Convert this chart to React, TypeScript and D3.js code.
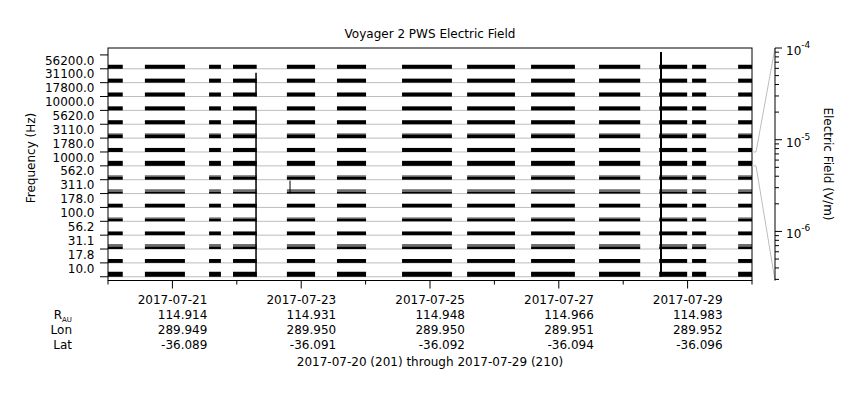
import * as d3 from 'd3';

const W = 860;
const H = 400;
const FRAME = { left: 108, right: 752, top: 48, bottom: 280.5 };
const FONT = 'DejaVu Sans, sans-serif';

// channel centre frequencies, lowest first
const CHANNELS = ['10.0', '17.8', '31.1', '56.2', '100.0', '178.0', '311.0', '562.0',
  '1000.0', '1780.0', '3110.0', '5620.0', '10000.0', '17800.0', '31100.0', '56200.0'];

// typical upper envelope of the noise per channel (V/m): dense black part, grey fringe
const BLACK_TOP = [2.4e-6, 1.5e-6, 8.5e-7, 1.4e-6, 9e-7, 1.4e-6, 6e-7, 1.05e-6,
  2.4e-6, 1.6e-6, 1.4e-6, 1.6e-6, 1.6e-6, 1.6e-6, 1.6e-6, 1.6e-6];
const GREY_TOP = [0, 0, 2.4e-6, 0, 1.5e-6, 0, 1.8e-6, 1.9e-6,
  0, 0, 2.2e-6, 0, 0, 0, 0, 0];

// intervals with data coverage
const SEGMENTS: [string, string][] = [
  ['2017-07-20T00:00', '2017-07-20T05:30'],
  ['2017-07-20T13:45', '2017-07-21T04:40'],
  ['2017-07-21T13:40', '2017-07-21T18:05'],
  ['2017-07-21T22:35', '2017-07-22T07:25'],
  ['2017-07-22T18:40', '2017-07-23T05:10'],
  ['2017-07-23T13:20', '2017-07-24T00:10'],
  ['2017-07-24T13:35', '2017-07-25T08:10'],
  ['2017-07-25T13:50', '2017-07-26T07:40'],
  ['2017-07-26T13:40', '2017-07-27T06:00'],
  ['2017-07-27T15:00', '2017-07-28T06:20'],
  ['2017-07-28T13:25', '2017-07-28T23:50'],
  ['2017-07-29T01:40', '2017-07-29T06:55'],
  ['2017-07-29T18:50', '2017-07-30T00:00'],
];

// impulsive events: time, channel range, peak field
const SPIKES: { t: string; lo: number; hi: number; peak: number; w: number }[] = [
  { t: '2017-07-22T07:10', lo: 0, hi: 11, peak: 1.2e-4, w: 1.5 },
  { t: '2017-07-22T07:10', lo: 13, hi: 13, peak: 1.2e-4, w: 1.5 },
  { t: '2017-07-22T07:10', lo: 14, hi: 14, peak: 1.8e-5, w: 1.5 },
  { t: '2017-07-22T19:50', lo: 6, hi: 6, peak: 7e-5, w: 1 },
  { t: '2017-07-28T14:05', lo: 0, hi: 14, peak: 1.5e-4, w: 2 },
  { t: '2017-07-28T14:05', lo: 15, hi: 15, peak: 3.5e-4, w: 2 },
];

const TICK_DATES = ['2017-07-21', '2017-07-23', '2017-07-25', '2017-07-27', '2017-07-29'];
const R_AU = ['114.914', '114.931', '114.948', '114.966', '114.983'];
const LON = ['289.949', '289.950', '289.950', '289.951', '289.952'];
const LAT = ['-36.089', '-36.091', '-36.092', '-36.094', '-36.096'];

const FIELD_MIN = Math.pow(10, -6.535);
const FIELD_MAX = 1e-4;
const HILITE = 8; // channel expanded on the right-hand scale

const parse = (s: string) => new Date(s + (s.length > 10 ? ':00Z' : 'T00:00:00Z'));

export default function App() {
  const x = d3.scaleUtc()
    .domain([parse('2017-07-20'), parse('2017-07-30')])
    .range([FRAME.left, FRAME.right]);
  // channel index -> vertical position of its baseline
  const y = d3.scaleLinear().domain([-0.27, 16.5]).range([FRAME.bottom, FRAME.top]);
  const band = y(0) - y(1);
  const fieldFrac = d3.scaleLog().domain([FIELD_MIN, FIELD_MAX]).range([0, 1]).clamp(false);
  const chanY = (i: number, v: number) => y(i) - fieldFrac(v) * band;
  const z = d3.scaleLog().domain([FIELD_MIN, FIELD_MAX]).range([FRAME.bottom, FRAME.top]);
  const zx = 775;

  const days = d3.utcDay.range(parse('2017-07-20'), d3.utcDay.offset(parse('2017-07-30'), 1));
  const zTicks: { v: number; major: boolean; exp?: number }[] = [];
  for (let e = -7; e <= -5; e++) {
    for (let m = 1; m < 10; m++) {
      const v = m * Math.pow(10, e);
      if (v >= FIELD_MIN * 0.999 && v <= FIELD_MAX * 1.001) zTicks.push({ v, major: m === 1, exp: e });
    }
  }
  zTicks.push({ v: 1e-4, major: true, exp: -4 });

  const rows = [
    { label: 'R', sub: 'AU', vals: R_AU, y: 319 },
    { label: 'Lon', vals: LON, y: 334 },
    { label: 'Lat', vals: LAT, y: 348.5 },
  ];

  return (
    <svg width={W} height={H} style={{ position: 'absolute', left: 0, top: 0, background: '#fff' }}
      fontFamily={FONT} fontSize={12}>
      <rect width={W} height={H} fill="#fff" />
      <text x={430} y={38} textAnchor="middle">Voyager 2 PWS Electric Field</text>

      {/* baselines */}
      {CHANNELS.map((_, i) => (
        <line key={'g' + i} x1={FRAME.left} x2={FRAME.right} y1={y(i)} y2={y(i)} stroke="#bdbdbd" />
      ))}

      {/* channel data */}
      {CHANNELS.map((_, i) => SEGMENTS.map(([a, b], k) => {
        const x0 = x(parse(a)), x1 = x(parse(b));
        const top = chanY(i, BLACK_TOP[i]);
        return (
          <g key={`s${i}-${k}`}>
            {GREY_TOP[i] > 0 && (
              <rect x={x0} width={x1 - x0} y={chanY(i, GREY_TOP[i])}
                height={top - chanY(i, GREY_TOP[i])} fill="#6e6e6e" />
            )}
            <rect x={x0} width={x1 - x0} y={top} height={y(i) - top} fill="#000" />
          </g>
        );
      }))}

      {SPIKES.map((s, k) => {
        const sx = x(parse(s.t));
        return d3.range(s.lo, s.hi + 1).map(i => (
          <line key={`p${k}-${i}`} x1={sx} x2={sx} y1={y(i)}
            y2={Math.max(FRAME.top + 4, chanY(i, s.peak))} stroke="#000" strokeWidth={s.w} />
        ));
      })}

      {/* frame */}
      <rect x={FRAME.left} y={FRAME.top} width={FRAME.right - FRAME.left}
        height={FRAME.bottom - FRAME.top} fill="none" stroke="#000" />

      {/* left axis */}
      {d3.range(0, 17).map(i => (
        <line key={'lt' + i} x1={FRAME.left - 8} x2={FRAME.left} y1={y(i)} y2={y(i)} stroke="#000" />
      ))}
      {CHANNELS.map((c, i) => (
        <text key={'ll' + i} x={94.5} y={(y(i) + y(i + 1)) / 2 - 1.5} dy="0.35em" textAnchor="end">{c}</text>
      ))}
      <text transform={`translate(35,158) rotate(-90)`} textAnchor="middle">Frequency (Hz)</text>

      {/* bottom axis */}
      {days.map((d, k) => {
        const long = d.getUTCDate() % 2 === 1;
        return <line key={'bt' + k} x1={x(d)} x2={x(d)} y1={FRAME.bottom} y2={FRAME.bottom + (long ? 8 : 4)} stroke="#000" />;
      })}
      {TICK_DATES.map((d, k) => {
        const tx = x(parse(d)) + 35;
        return (
          <g key={'tb' + k} textAnchor="end">
            <text x={tx} y={304}>{d}</text>
            {rows.map(r => <text key={r.label} x={tx} y={r.y}>{r.vals[k]}</text>)}
          </g>
        );
      })}
      {rows.map(r => (
        <text key={'rl' + r.label} x={72} y={r.y} textAnchor="end">
          {r.label}{r.sub && <tspan fontSize={7} dy={3}>{r.sub}</tspan>}
        </text>
      ))}
      <text x={430} y={366} textAnchor="middle">2017-07-20 (201) through 2017-07-29 (210)</text>

      {/* expansion of the highlighted channel onto the field scale */}
      <polyline points={`${FRAME.right},${y(HILITE + 1)} ${FRAME.right + 4},${y(HILITE + 1)} ${zx},${FRAME.top}`}
        fill="none" stroke="#bdbdbd" />
      <polyline points={`${FRAME.right},${y(HILITE)} ${FRAME.right + 4},${y(HILITE)} ${zx},${FRAME.bottom}`}
        fill="none" stroke="#bdbdbd" />

      {/* right field axis */}
      <line x1={zx} x2={zx} y1={FRAME.top} y2={FRAME.bottom} stroke="#000" />
      {zTicks.map((t, k) => (
        <line key={'zt' + k} x1={zx} x2={zx + (t.major ? 7 : 4)} y1={z(t.v)} y2={z(t.v)} stroke="#000" />
      ))}
      {zTicks.filter(t => t.major).map((t, k) => (
        <text key={'zl' + k} x={786} y={z(t.v) + 7}>
          10<tspan fontSize={9} dy={-7}>{String(t.exp).replace('-', '-')}</tspan>
        </text>
      ))}
      <text transform={`translate(824,164) rotate(90)`} textAnchor="middle">Electric Field (V/m)</text>
    </svg>
  );
}
